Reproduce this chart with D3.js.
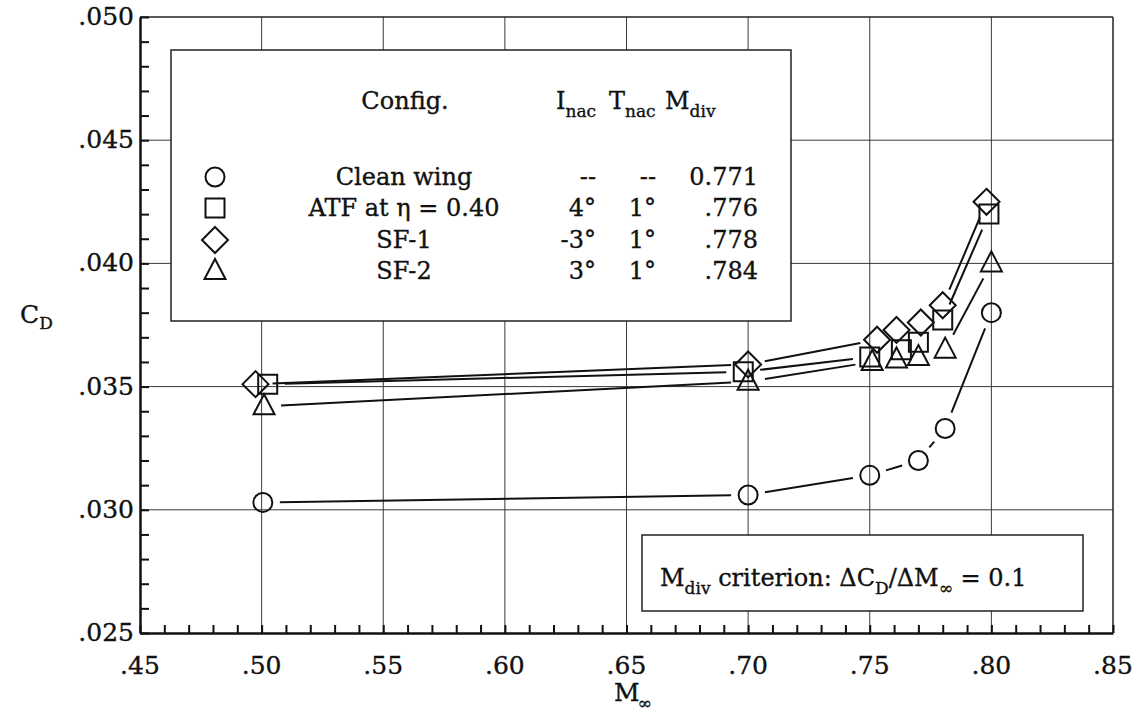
<!DOCTYPE html>
<html>
<head>
<meta charset="utf-8">
<script src="https://cdn.jsdelivr.net/npm/d3@7"></script>
<style>
  html, body { margin: 0; padding: 0; background: #fff; }
  svg { display: block; }
  text { font-family: "DejaVu Serif", "Liberation Serif", serif; fill: #111; stroke: #111; stroke-width: 0.35px; }
</style>
</head>
<body>
<svg id="chart" width="1142" height="726"></svg>
<script>
// Axis ticks
const machTicks = [0.45, 0.50, 0.55, 0.60, 0.65, 0.70, 0.75, 0.80, 0.85];
const cdTicks = [0.025, 0.030, 0.035, 0.040, 0.045, 0.050];

// Drag coefficient vs free-stream Mach number, one pair of arrays per configuration
const cleanMach = [0.5005, 0.700, 0.750, 0.770, 0.781, 0.800];
const cleanCD   = [0.0303, 0.0306, 0.0314, 0.0320, 0.0333, 0.0380];

const atfMach = [0.5025, 0.698, 0.750, 0.763, 0.770, 0.780, 0.799];
const atfCD   = [0.0351, 0.0356, 0.0362, 0.0365, 0.0368, 0.0377, 0.0420];

const sf1Mach = [0.4975, 0.700, 0.753, 0.761, 0.771, 0.780, 0.798];
const sf1CD   = [0.0351, 0.0359, 0.0369, 0.0373, 0.0376, 0.0383, 0.0425];

const sf2Mach = [0.501, 0.700, 0.751, 0.761, 0.770, 0.781, 0.800];
const sf2CD   = [0.0342, 0.0352, 0.0360, 0.0361, 0.0362, 0.0365, 0.0400];

// Legend table
const configNames = ["Clean wing", "ATF at η = 0.40", "SF-1", "SF-2"];
const incidence   = ["--", "4°", "-3°", "3°"];
const toeAngle    = ["--", "1°", "1°", "1°"];
const mdivValues  = ["0.771", ".776", ".778", ".784"];
const symbolKinds = ["circle", "square", "diamond", "triangle"];

const series = [
  { kind: "circle",   mach: cleanMach, cd: cleanCD },
  { kind: "square",   mach: atfMach,   cd: atfCD },
  { kind: "diamond",  mach: sf1Mach,   cd: sf1CD },
  { kind: "triangle", mach: sf2Mach,   cd: sf2CD }
];

const svg = d3.select("#chart");
const plotL = 140, plotR = 1113, plotT = 17, plotB = 633;

const x = d3.scaleLinear().domain([0.45, 0.85]).range([plotL, plotR]);
const y = d3.scaleLinear().domain([0.025, 0.050]).range([plotB, plotT]);

const fmt = v => d3.format(".2f")(v).replace(/^0/, "");
const fmtY = v => d3.format(".3f")(v).replace(/^0/, "");

// Grid lines at the major ticks
const grid = svg.append("g").attr("stroke", "#3a3a3a").attr("stroke-width", 1);
grid.selectAll("line.v").data(machTicks.slice(1, -1)).join("line").attr("class", "v")
  .attr("x1", d => x(d)).attr("x2", d => x(d)).attr("y1", plotT).attr("y2", plotB);
grid.selectAll("line.h").data(cdTicks.slice(1, -1)).join("line").attr("class", "h")
  .attr("y1", d => y(d)).attr("y2", d => y(d)).attr("x1", plotL).attr("x2", plotR);

// Frame: heavier on the axis sides
svg.append("line").attr("x1", plotL).attr("x2", plotR).attr("y1", plotT).attr("y2", plotT)
  .attr("stroke", "#222").attr("stroke-width", 1.5);
svg.append("line").attr("x1", plotR).attr("x2", plotR).attr("y1", plotT).attr("y2", plotB)
  .attr("stroke", "#222").attr("stroke-width", 1.5);

// Bottom axis: minor ticks every 0.01 pointing into the plot
const xAxis = d3.axisBottom(x).tickValues(d3.range(45, 86, 1).map(v => v / 100))
  .tickSize(-8).tickFormat("").tickSizeOuter(0);
const gx = svg.append("g").attr("transform", `translate(0,${plotB})`).call(xAxis);
gx.select(".domain").attr("stroke", "#111").attr("stroke-width", 2.5);
gx.selectAll(".tick line").attr("stroke", "#111").attr("stroke-width", 2);

// Left axis: minor ticks every 0.001
const yAxis = d3.axisLeft(y).tickValues(d3.range(25, 51, 1).map(v => v / 1000))
  .tickSize(-9).tickFormat("").tickSizeOuter(0);
const gy = svg.append("g").attr("transform", `translate(${plotL},0)`).call(yAxis);
gy.select(".domain").attr("stroke", "#111").attr("stroke-width", 2.5);
gy.selectAll(".tick line").attr("stroke", "#111").attr("stroke-width", 2);

// Tick labels
svg.append("g").selectAll("text").data(machTicks).join("text")
  .attr("x", d => x(d)).attr("y", 674).attr("text-anchor", "middle")
  .attr("font-size", 25).text(fmt);
svg.append("g").selectAll("text").data(cdTicks).join("text")
  .attr("x", 134).attr("y", d => y(d) + 8).attr("text-anchor", "end")
  .attr("font-size", 25).text(fmtY);

// Axis titles
const yt = svg.append("text").attr("x", 20).attr("y", 323).attr("font-size", 25);
yt.append("tspan").text("C");
yt.append("tspan").attr("dy", 6).attr("font-size", 17).text("D");
const xt = svg.append("text").attr("x", 614).attr("y", 701).attr("font-size", 25);
xt.append("tspan").text("M");
xt.append("tspan").attr("dx", -2).attr("dy", 8).attr("font-size", 17).text("∞");

// Symbol outlines
function symbolPath(kind, cx, cy) {
  const p = d3.path();
  if (kind === "circle") { p.moveTo(cx + 9.5, cy); p.arc(cx, cy, 9.5, 0, 2 * Math.PI); }
  else if (kind === "square") { p.rect(cx - 9.5, cy - 9.5, 19, 19); }
  else if (kind === "diamond") {
    p.moveTo(cx, cy - 13); p.lineTo(cx + 13, cy); p.lineTo(cx, cy + 13); p.lineTo(cx - 13, cy); p.closePath();
  } else {
    p.moveTo(cx, cy - 12); p.lineTo(cx + 10.5, cy + 8); p.lineTo(cx - 10.5, cy + 8); p.closePath();
  }
  return p.toString();
}

// Connecting segments stop short of each symbol
const gap = 17;
const plot = svg.append("g");
series.forEach(s => {
  const pts = s.mach.map((m, i) => [x(m), y(s.cd[i])]);
  for (let i = 0; i < pts.length - 1; i++) {
    const [x1, y1] = pts[i], [x2, y2] = pts[i + 1];
    const L = Math.hypot(x2 - x1, y2 - y1);
    if (L <= 2 * gap) continue;
    const ux = (x2 - x1) / L, uy = (y2 - y1) / L;
    plot.append("line")
      .attr("x1", x1 + ux * gap).attr("y1", y1 + uy * gap)
      .attr("x2", x2 - ux * gap).attr("y2", y2 - uy * gap)
      .attr("stroke", "#111").attr("stroke-width", 2);
  }
  plot.append("g").selectAll("path").data(pts).join("path")
    .attr("d", d => symbolPath(s.kind, d[0], d[1]))
    .attr("fill", "none").attr("stroke", "#111").attr("stroke-width", 2);
});

// Legend table
const lg = svg.append("g");
lg.append("rect").attr("x", 171).attr("y", 50).attr("width", 620).attr("height", 271)
  .attr("fill", "#fff").attr("stroke", "#222").attr("stroke-width", 1.5);

const fs = 24, sfs = 17;
lg.append("text").attr("x", 405).attr("y", 109).attr("text-anchor", "middle")
  .attr("font-size", fs).text("Config.");
function subHeader(xpos, main, sub) {
  const t = lg.append("text").attr("x", xpos).attr("y", 109).attr("font-size", fs);
  t.append("tspan").text(main);
  t.append("tspan").attr("dy", 8).attr("font-size", sfs).text(sub);
}
subHeader(556, "I", "nac");
subHeader(609, "T", "nac");
subHeader(665, "M", "div");

const rowY = [177, 208, 240, 271];
configNames.forEach((name, i) => {
  const cy = rowY[i];
  lg.append("path").attr("d", symbolPath(symbolKinds[i], 215, cy))
    .attr("fill", "none").attr("stroke", "#111").attr("stroke-width", 2);
  lg.append("text").attr("x", 404).attr("y", cy + 8).attr("text-anchor", "middle")
    .attr("font-size", fs).text(name);
  lg.append("text").attr("x", 596).attr("y", cy + 8).attr("text-anchor", "end")
    .attr("font-size", fs).text(incidence[i]);
  lg.append("text").attr("x", 656).attr("y", cy + 8).attr("text-anchor", "end")
    .attr("font-size", fs).text(toeAngle[i]);
  lg.append("text").attr("x", 758).attr("y", cy + 8).attr("text-anchor", "end")
    .attr("font-size", fs).text(mdivValues[i]);
});

// Divergence criterion note
const cb = svg.append("g");
cb.append("rect").attr("x", 642).attr("y", 535).attr("width", 441).attr("height", 76)
  .attr("fill", "#fff").attr("stroke", "#222").attr("stroke-width", 1.5);
const ct = cb.append("text").attr("x", 660).attr("y", 586).attr("font-size", fs);
ct.append("tspan").text("M");
ct.append("tspan").attr("dy", 8).attr("font-size", sfs).text("div");
ct.append("tspan").attr("dy", -8).text(" criterion: ΔC");
ct.append("tspan").attr("dy", 8).attr("font-size", sfs).text("D");
ct.append("tspan").attr("dy", -8).text("/ΔM");
ct.append("tspan").attr("dy", 8).attr("font-size", sfs).text("∞");
ct.append("tspan").attr("dy", -8).text(" = 0.1");
</script>
</body>
</html>
